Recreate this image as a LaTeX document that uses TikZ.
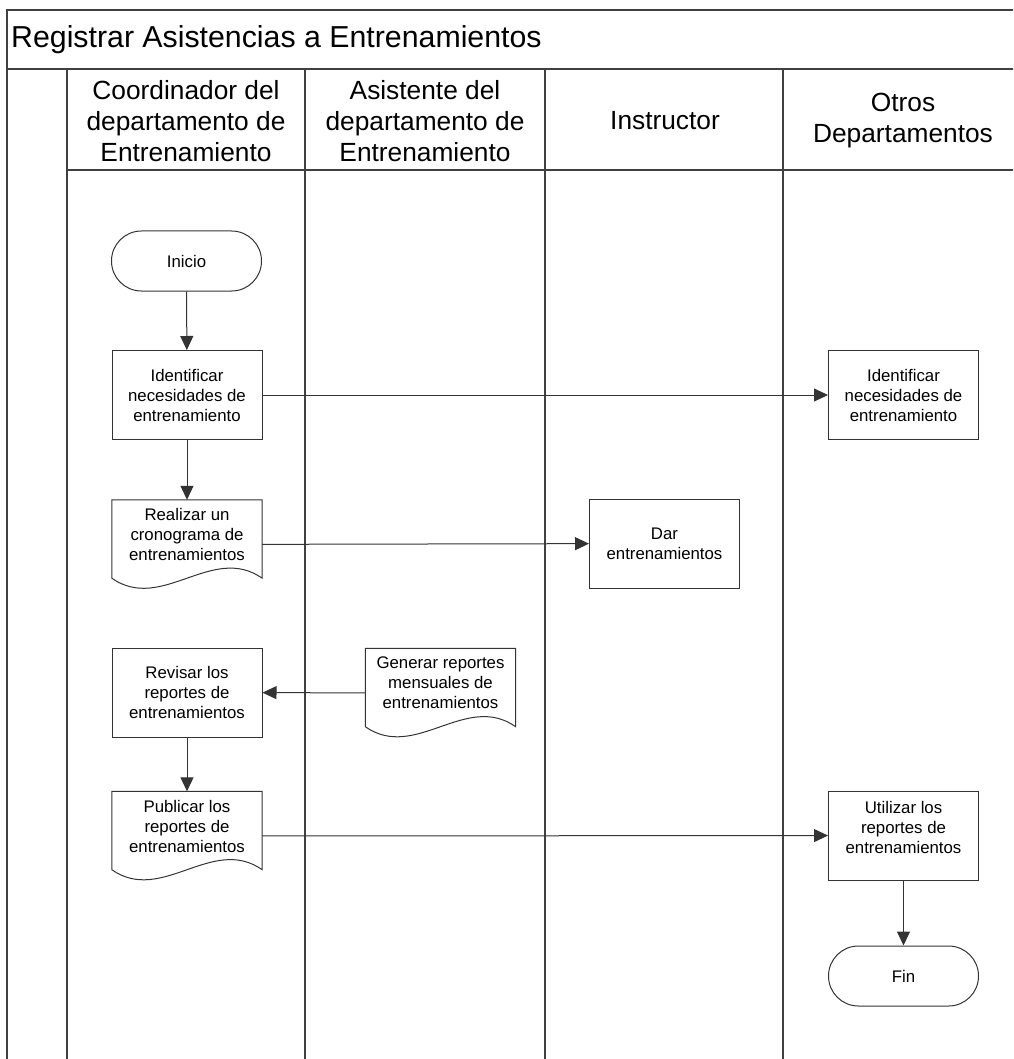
\documentclass[tikz,border=0pt]{standalone}
\usepackage{fontspec}
\setmainfont{Liberation Sans}
\usetikzlibrary{arrows.meta}

\newcommand\boxfont{\fontsize{16.8}{20}\selectfont}
\newcommand\lanefont{\fontsize{26.3}{31}\selectfont}
\newcommand\titlefont{\fontsize{30.3}{34}\selectfont}

% outline of a document symbol (straight top and sides, wavy bottom)
\newcommand\docoutline[1]{%
  \draw[shapeline] (#1.north west) -- ([yshift=11pt]#1.south west)
    .. controls +(50,35) and +(-50,-35) .. ([yshift=11pt]#1.south east)
    -- (#1.north east) -- cycle;}

\tikzset{
  frameline/.style={line width=1.8pt, draw=black!75},
  shapeline/.style={line width=1pt, draw=black!80},
  process/.style={shapeline, rectangle, minimum width=150pt, minimum height=89pt,
    inner sep=2pt, align=center, font=\boxfont},
  terminal/.style={shapeline, rectangle, rounded corners=29.9pt, minimum width=150pt,
    minimum height=60pt, inner sep=2pt, align=center, font=\boxfont},
  docbox/.style={rectangle, minimum width=150pt, minimum height=89pt, inner sep=0pt,
    align=center, text depth=20pt, font=\boxfont},
  lanehead/.style={align=center, font=\lanefont, inner sep=0pt},
  flow/.style={line width=1pt, draw=black!80, -{Triangle[length=14pt,width=13pt]}},
}

\begin{document}
\begin{tikzpicture}[x=1pt, y=-1pt]
\useasboundingbox (0,0) rectangle (1013,1059);
\clip (0,0) rectangle (1013,1059);

% pool frame, title bar and lanes
\draw[frameline] (7,1080) -- (7,10) -- (1040,10);
\draw[frameline] (7,69) -- (1040,69);
\draw[frameline] (67,69) -- (67,1080);
\draw[frameline] (67,170) -- (1040,170);
\draw[frameline] (305,69) -- (305,1080);
\draw[frameline] (545,69) -- (545,1080);
\draw[frameline] (783,69) -- (783,1080);

\node[anchor=west, font=\titlefont, inner sep=0pt] (title) at (11,40) {Registrar Asistencias a Entrenamientos};

\node[lanehead] (lane1) at (186,121) {Coordinador del\\departamento de\\Entrenamiento};
\node[lanehead] (lane2) at (425,121) {Asistente del\\departamento de\\Entrenamiento};
\node[lanehead] (lane3) at (665,121) {Instructor};
\node[lanehead] (lane4) at (903,121) {Otros\\Departamentos};

% flow objects
\node[terminal] (inicio) at (186.5,261) {Inicio};
\node[process] (ident1) at (187,395) {Identificar\\necesidades de\\entrenamiento};
\node[process] (ident2) at (903.5,395) {Identificar\\necesidades de\\entrenamiento};
\node[docbox] (realizar) at (187,544.5) {Realizar un\\cronograma de\\entrenamientos};
\docoutline{realizar}
\node[process] (dar) at (664.5,543.5) {Dar\\entrenamientos};
\node[process] (revisar) at (187,692.5) {Revisar los\\reportes de\\entrenamientos};
\node[docbox] (generar) at (440.5,693) {Generar reportes\\mensuales de\\entrenamientos};
\docoutline{generar}
\node[docbox] (publicar) at (187,836) {Publicar los\\reportes de\\entrenamientos};
\docoutline{publicar}
\node[process, text depth=17pt] (utilizar) at (903.5,835.5) {Utilizar los\\reportes de\\entrenamientos};
\node[terminal] (fin) at (903.5,976) {Fin};

% connectors
\draw[flow] (inicio) -- (ident1);
\draw[flow] (ident1) -- (ident2);
\draw[flow] (ident1) -- (realizar);
\draw[flow] (realizar) -- (dar);
\draw[flow] (generar) -- (revisar);
\draw[flow] (revisar) -- (publicar);
\draw[flow] (publicar) -- (utilizar);
\draw[flow] (utilizar) -- (fin);
\end{tikzpicture}
\end{document}
